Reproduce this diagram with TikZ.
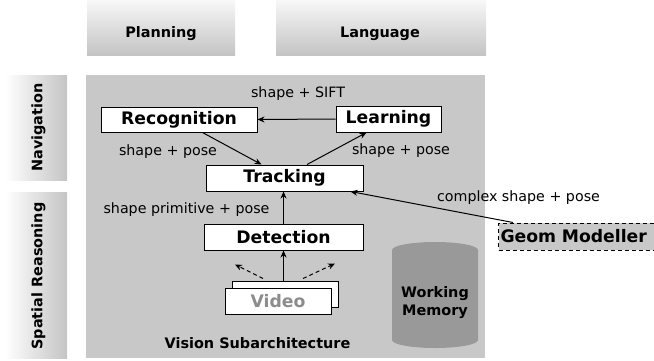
\documentclass[tikz,border=0pt]{standalone}
\usepackage{fontspec}
\setmainfont{DejaVu Sans}
\usetikzlibrary{arrows.meta,calc}
\definecolor{panelgray}{RGB}{200,200,200}
\definecolor{memgray}{RGB}{153,153,153}
\definecolor{fadegray}{RGB}{196,196,196}
\definecolor{videotext}{RGB}{140,140,140}

\begin{document}
\begin{tikzpicture}[x=1bp,y=-1bp,
  box/.style={draw=black, line width=1bp, fill=white, inner sep=0pt,
    font=\fontsize{17.3}{20}\selectfont\bfseries},
  lbl/.style={font=\fontsize{14.3}{17}\selectfont, inner sep=0pt},
  sublbl/.style={font=\fontsize{14.5}{18}\selectfont\bfseries, inner sep=0pt, align=center},
  arr/.style={-{Stealth[length=7bp,width=6bp]}, line width=1bp},
  darr/.style={arr, dash pattern=on 4bp off 3bp},
]
\useasboundingbox (0,0) rectangle (654,360);

% neighbouring subarchitectures
\shade[top color=white, bottom color=fadegray] (87,-8) rectangle (235,55);
\shade[top color=white, bottom color=fadegray] (276,-8) rectangle (486,55);
\node[sublbl] (plan) at (161,33.5) {Planning};
\node[sublbl] (lang) at (380,33.5) {Language};

\shade[left color=white, right color=fadegray] (5,75) rectangle (67,180);
\shade[left color=white, right color=fadegray] (5,192) rectangle (67,358);
\node[sublbl, rotate=90] (nav) at (38.5,127.5) {Navigation};
\node[sublbl, rotate=90] (spat) at (38.5,276) {Spatial Reasoning};

% vision subarchitecture panel
\node[fill=panelgray, inner sep=0pt, minimum width=399bp, minimum height=283bp] (panel) at (285.5,216.5) {};
\node[sublbl] (vislbl) at (257.5,343) {Vision Subarchitecture};

% working memory
\fill[memgray] (392,250) arc[start angle=180, end angle=360, x radius=43, y radius=8]
  -- (478,340) arc[start angle=0, end angle=180, x radius=43, y radius=8] -- cycle;
\node[sublbl] (wm) at (435,303) {Working\\Memory};

% components
\node[box, minimum width=156bp, minimum height=25bp] (rec) at (179,119.5) {Recognition};
\node[box, minimum width=105bp, minimum height=26bp] (lrn) at (388.5,119) {Learning};
\node[box, minimum width=157bp, minimum height=26bp] (trk) at (284.5,178) {Tracking};
\node[box, minimum width=159bp, minimum height=26bp] (det) at (283.5,237) {Detection};
\node[box, minimum width=106bp, minimum height=26bp] (vidb) at (285,294) {};
\node[box, minimum width=106bp, minimum height=26bp, text=videotext] (vid) at (278,301) {Video};

\node[box, fill=panelgray, dash pattern=on 4bp off 3bp, anchor=west, inner xsep=2bp,
  text width=158bp, align=left, minimum height=27bp] (geom) at (498,236.5) {Geom Modeller};

% data flow
\draw[arr] (lrn.west) -- (rec.east);
\draw[arr] ($(rec.south east)+(-55,0)$) -- ($(trk.north west)+(56,0)$);
\draw[arr] ($(trk.north)+(22.5,0)$) -- ($(lrn.south west)+(31,0)$);
\draw[arr] (det.north) -- (det.north |- trk.south);
\draw[arr] (vidb.north -| det.south) -- (det.south);
\draw[arr] ($(geom.north west)+(15,0)$) -- ($(trk.south east)+(-13,0)$);

\coordinate (vl) at ($(vidb.north)+(-22,-2)$);
\coordinate (vr) at ($(vidb.north)+(18,-2)$);
\coordinate (vlt) at ($(vidb.north)+(-50,-16)$);
\coordinate (vrt) at ($(vidb.north)+(50,-17)$);
\draw[darr] (vl) -- (vlt);
\draw[darr] (vr) -- (vrt);

% labels
\node[lbl] (l1) at (298,94) {shape + SIFT};
\node[lbl] (l2) at (168,152) {shape + pose};
\node[lbl] (l3) at (401,151) {shape + pose};
\node[lbl] (l4) at (186.5,210) {shape primitive + pose};
\node[lbl] (l5) at (518.5,198) {complex shape + pose};
\end{tikzpicture}
\end{document}
